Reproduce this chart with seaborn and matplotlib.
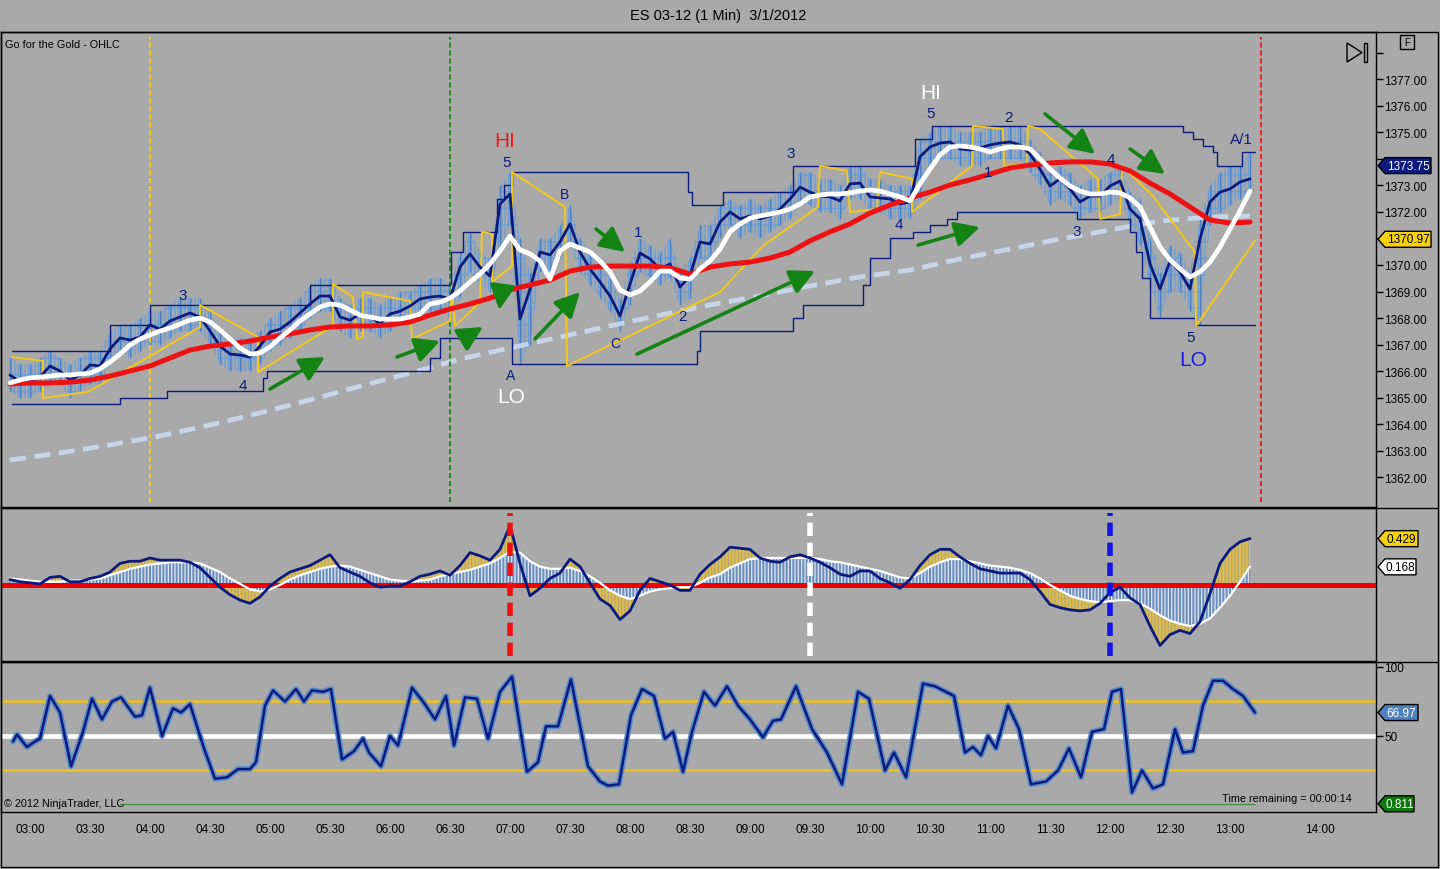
import matplotlib
matplotlib.use("Agg")
import matplotlib.pyplot as plt
import seaborn as sns
import numpy as np
import pandas as pd
from matplotlib.patches import Polygon
from matplotlib.lines import Line2D
from matplotlib.transforms import IdentityTransform

# ------------------------------------------------------------------ data
# time axis: minutes after 03:00 (1-minute ES bars), sampled every 5 minutes
t5 = list(range(-10, 615, 5))
close5 = [1365.85,1365.58,1365.62,1365.77,1366.19,1366.00,1365.66,1365.85,1366.23,1366.19,
          1366.83,1367.25,1367.17,1367.28,1367.74,1367.58,1367.89,1368.04,1368.19,1368.04,
          1367.51,1366.94,1366.64,1366.60,1366.53,1366.94,1367.47,1367.58,1367.85,1368.19,
          1368.53,1368.83,1368.83,1368.04,1367.92,1368.15,1368.08,1367.77,1368.15,1368.26,
          1368.45,1368.72,1368.79,1368.83,1368.72,1369.92,1370.42,1369.92,1369.58,1372.30,
          1372.68,1367.96,1369.09,1370.49,1370.38,1370.87,1371.55,1370.49,1369.85,1369.36,
          1368.83,1368.08,1369.28,1370.45,1370.23,1369.85,1370.04,1369.17,1369.58,1370.87,
          1370.79,1371.62,1372.00,1371.74,1371.85,1371.74,1371.85,1372.11,1372.49,1372.94,
          1372.75,1372.60,1372.57,1372.42,1373.06,1373.09,1372.57,1372.53,1372.49,1372.30,
          1372.38,1374.08,1374.45,1374.60,1374.64,1374.38,1374.34,1374.42,1374.53,1374.60,
          1374.64,1374.53,1374.19,1373.62,1372.98,1373.25,1372.87,1372.38,1372.60,1372.60,
          1372.98,1373.17,1372.11,1371.74,1370.04,1369.09,1370.15,1369.74,1369.09,1370.98,
          1372.38,1372.75,1372.87,1373.13,1373.25]
bar_hi = [1366.50,1366.25,1366.25,1366.50,1366.75,1366.50,1366.25,1366.50,1366.75,1366.75,
          1367.50,1367.75,1367.75,1368.00,1368.25,1368.25,1368.50,1368.75,1368.75,1368.75,
          1368.25,1367.50,1367.25,1367.25,1367.25,1367.50,1368.00,1368.25,1368.50,1368.75,
          1369.25,1369.50,1369.50,1368.75,1368.50,1368.75,1368.75,1368.50,1368.75,1369.00,
          1369.00,1369.25,1369.50,1369.50,1369.25,1370.50,1371.25,1370.50,1370.25,1373.00,
          1373.50,1371.00,1369.75,1371.00,1371.00,1371.50,1372.25,1371.00,1370.50,1370.00,
          1369.50,1368.75,1370.00,1371.00,1370.75,1370.50,1371.00,1369.75,1370.25,1371.50,
          1371.50,1372.25,1372.50,1372.25,1372.50,1372.25,1372.50,1372.75,1373.00,1373.50,
          1373.50,1373.25,1373.25,1373.00,1373.75,1373.75,1373.25,1373.25,1373.00,1373.00,
          1373.00,1374.75,1375.00,1375.25,1375.25,1375.00,1375.00,1375.00,1375.25,1375.25,
          1375.25,1375.25,1374.75,1374.25,1373.50,1373.75,1373.50,1373.00,1373.25,1373.25,
          1373.50,1373.75,1372.75,1372.50,1371.00,1369.75,1370.75,1370.50,1369.75,1371.75,
          1373.00,1373.50,1373.75,1373.75,1374.25]
bar_lo = [1365.25,1365.00,1365.00,1365.25,1365.50,1365.50,1365.00,1365.25,1365.50,1365.50,
          1366.25,1366.75,1366.50,1366.75,1367.00,1367.00,1367.25,1367.50,1367.50,1367.50,
          1367.00,1366.25,1366.00,1366.00,1366.00,1366.25,1366.75,1367.00,1367.25,1367.50,
          1368.00,1368.25,1368.25,1367.50,1367.25,1367.50,1367.50,1367.25,1367.50,1367.75,
          1367.75,1368.00,1368.25,1368.25,1368.00,1368.75,1369.75,1369.25,1369.00,1370.50,
          1371.50,1366.25,1367.00,1369.75,1369.75,1370.25,1370.75,1369.75,1369.25,1368.75,
          1368.25,1367.50,1368.50,1369.75,1369.50,1369.25,1369.50,1368.50,1368.75,1370.25,
          1370.00,1371.00,1371.50,1371.00,1371.25,1371.00,1371.25,1371.50,1371.75,1372.25,
          1372.25,1372.00,1372.00,1371.75,1372.50,1372.50,1372.00,1372.00,1371.75,1371.75,
          1371.75,1372.50,1373.75,1374.00,1374.00,1373.75,1373.75,1373.75,1374.00,1374.00,
          1374.00,1374.00,1373.50,1373.00,1372.25,1372.50,1372.25,1371.75,1372.00,1372.00,
          1372.25,1372.50,1371.50,1370.75,1369.25,1368.00,1369.00,1369.00,1368.25,1367.75,
          1371.50,1372.00,1372.25,1372.50,1372.75]
white5 = [1365.55,1365.66,1365.74,1365.77,1365.81,1365.85,1365.85,1365.89,1365.92,1366.08,
          1366.34,1366.64,1366.98,1367.21,1367.36,1367.51,1367.62,1367.77,1367.92,1368.00,
          1367.85,1367.55,1367.21,1366.87,1366.64,1366.68,1366.91,1367.25,1367.55,1367.89,
          1368.15,1368.42,1368.53,1368.49,1368.30,1368.11,1368.04,1367.96,1367.96,1367.96,
          1368.04,1368.15,1368.53,1368.60,1368.75,1369.02,1369.36,1369.66,1370.04,1370.53,
          1371.09,1370.57,1370.42,1370.15,1369.47,1370.53,1370.79,1370.64,1370.49,1370.15,
          1369.74,1369.06,1368.87,1369.02,1369.36,1369.77,1369.77,1369.51,1369.47,1369.85,
          1370.15,1370.60,1371.25,1371.55,1371.77,1371.85,1371.92,1372.00,1372.11,1372.30,
          1372.57,1372.64,1372.68,1372.68,1372.72,1372.79,1372.83,1372.79,1372.68,1372.57,
          1372.42,1373.06,1373.62,1374.15,1374.45,1374.49,1374.45,1374.38,1374.26,1374.38,
          1374.45,1374.45,1374.38,1374.00,1373.62,1373.28,1372.98,1372.79,1372.68,1372.68,
          1372.75,1372.72,1372.53,1372.19,1371.43,1370.68,1370.19,1369.85,1369.55,1369.74,
          1370.11,1370.68,1371.36,1372.04,1372.79]
t10 = list(range(-10, 615, 10))
red10 = [1365.51,1365.55,1365.55,1365.58,1365.66,1365.81,1366.00,1366.19,1366.49,1366.79,
         1366.94,1367.02,1367.13,1367.28,1367.40,1367.55,1367.66,1367.70,1367.70,1367.74,
         1367.85,1368.11,1368.34,1368.53,1368.75,1369.06,1369.25,1369.43,1369.77,1369.92,
         1369.96,1369.96,1369.96,1369.89,1369.66,1369.92,1370.04,1370.11,1370.26,1370.49,
         1370.91,1371.25,1371.55,1371.96,1372.26,1372.53,1372.75,1373.02,1373.21,1373.43,
         1373.66,1373.77,1373.85,1373.89,1373.89,1373.81,1373.55,1373.09,1372.68,1372.19,
         1371.70,1371.58,1371.62]
dash_t = [-10,15,40,65,90,115,140,165,190,215,240,265,290,315,340,365,390,415,440,465,
          490,515,540,565,590,610]
dash_p = [1362.64,1362.91,1363.21,1363.55,1363.96,1364.42,1364.91,1365.43,1365.92,1366.45,
          1366.87,1367.28,1367.70,1368.11,1368.49,1368.83,1369.21,1369.55,1369.81,1370.23,
          1370.60,1370.98,1371.32,1371.66,1371.81,1371.85]
yel_t = [-9,6.5,6.5,29,85,85,114,114,151.5,151.5,161.5,163.5,166.5,166.5,190,191,210,211,
         212.5,225,226,231,231,241,241,267.5,268.5,345,366.5,394,395,408.5,410,423.5,425,
         441,441,471,471.5,486.5,487,498.5,499,505,534,535,545,546,561.5,582.5,583,612.5]
yel_p = [1366.53,1366.38,1364.98,1365.21,1367.66,1368.49,1367.28,1365.96,1367.70,1369.28,
         1368.79,1367.21,1367.28,1368.98,1368.64,1367.21,1367.89,1369.21,1367.70,1368.60,
         1371.25,1371.17,1369.36,1369.96,1373.51,1372.19,1366.19,1368.98,1370.72,1372.19,
         1373.74,1373.55,1372.00,1372.11,1373.51,1373.25,1372.00,1373.74,1375.25,1375.13,
         1373.74,1373.81,1375.25,1375.13,1373.25,1371.74,1371.92,1373.74,1372.60,1370.49,
         1367.70,1370.91]
up_t = [-9,40,60,140,210.5,216.5,233.5,237,241,329,331,346.5,381.5,442.5,451,576.5,581.5,
        586.5,591.5,593.5,606,612.5]
up_p = [1366.75,1367.75,1368.50,1369.25,1370.50,1371.25,1372.50,1373.00,1373.50,1372.75,
        1372.25,1372.75,1373.75,1374.75,1375.25,1375.00,1374.75,1374.50,1374.25,1373.75,
        1374.25,1374.25]
lo_t = [-9,45,68.5,116.5,118.5,200,205,241,333.5,335,381.5,386.5,416.5,420,430,441.5,450,
        458.5,463.5,523.5,550,553,556,560,582.5,612.5]
lo_p = [1364.75,1365.00,1365.25,1365.75,1366.00,1366.50,1367.25,1366.25,1366.75,1367.50,
        1368.00,1368.50,1369.25,1370.25,1371.00,1371.25,1371.50,1371.75,1372.00,1371.75,
        1371.25,1370.50,1369.50,1368.00,1367.75,1367.75]

osc_macd = [0.05,0.03,0.02,0.01,0.07,0.08,0.03,0.03,0.06,0.08,
            0.12,0.20,0.22,0.22,0.25,0.23,0.23,0.23,0.21,0.16,
            0.07,-0.02,-0.09,-0.14,-0.17,-0.11,-0.01,0.06,0.12,0.15,
            0.18,0.23,0.28,0.16,0.12,0.08,0.02,-0.02,-0.01,-0.01,
            0.03,0.08,0.10,0.13,0.09,0.18,0.30,0.27,0.23,0.33,
            0.55,0.20,-0.10,-0.03,0.06,0.11,0.24,0.17,0.02,-0.13,
            -0.19,-0.32,-0.24,-0.05,0.06,0.03,0.00,-0.05,-0.05,0.10,
            0.19,0.26,0.35,0.34,0.33,0.25,0.22,0.21,0.26,0.28,
            0.25,0.21,0.16,0.10,0.08,0.13,0.13,0.06,0.02,-0.03,
            0.05,0.18,0.28,0.33,0.33,0.26,0.20,0.15,0.13,0.11,
            0.11,0.11,0.05,-0.06,-0.18,-0.21,-0.23,-0.24,-0.23,-0.17,
            -0.07,-0.02,-0.12,-0.18,-0.38,-0.56,-0.46,-0.42,-0.45,-0.34,
            -0.08,0.20,0.33,0.40,0.43]
osc_sig = [0.06,0.05,0.04,0.03,0.03,0.03,0.04,0.04,0.05,0.06,
           0.09,0.12,0.15,0.17,0.19,0.20,0.21,0.21,0.21,0.20,
           0.16,0.12,0.06,0.01,-0.04,-0.06,-0.04,0.00,0.05,0.09,
           0.12,0.15,0.17,0.18,0.17,0.14,0.11,0.08,0.05,0.04,
           0.03,0.04,0.05,0.08,0.10,0.12,0.14,0.17,0.20,0.25,
           0.31,0.30,0.22,0.17,0.15,0.15,0.16,0.13,0.08,0.02,
           -0.05,-0.10,-0.13,-0.10,-0.06,-0.04,-0.03,-0.02,-0.02,0.02,
           0.07,0.10,0.16,0.20,0.24,0.25,0.25,0.25,0.25,0.25,
           0.25,0.24,0.22,0.21,0.19,0.17,0.15,0.13,0.10,0.07,
           0.06,0.11,0.17,0.21,0.24,0.24,0.22,0.20,0.18,0.17,
           0.16,0.14,0.11,0.06,0.00,-0.05,-0.10,-0.13,-0.15,-0.16,
           -0.15,-0.14,-0.14,-0.17,-0.22,-0.28,-0.33,-0.36,-0.38,-0.36,
           -0.31,-0.21,-0.10,0.03,0.17]

stoch_t = [-8.5,-6.5,-1.5,2.5,5,10,15,20.5,26.5,31,36,41,45.5,52.5,56,60,66,71.5,75.5,80,
           87,92.5,98.5,104,110,113,117.5,121.5,127.5,133,137,141,146.5,150.5,156,162,166.5,
           169.5,175.5,180,184,191,196.5,202.5,208,212,217.5,223.5,229,235,241,248.5,254,258,
           264,270.5,279,285,289,294.5,300.5,306,312,317.5,321.5,326.5,331,337,342.5,348.5,
           354,360,366.5,371.5,375.5,383,391,398.5,406,414,419.5,427.5,432,438,446.5,452.5,
           462,467.5,471.5,475.5,479,483,489,494.5,500.5,508,514,519.5,525.5,531,537,541,
           545.5,551,556,561.5,566.5,572.5,576.5,581.5,586.5,591.5,596.5,601.5,606.5,612.5]
stoch_v = [46,51,42,46,48,79,67,28,53,77,62,75,78,64,65,85,50,70,67,73,
           41,19,20,26,26,31,72,83,75,84,75,83,82,84,33,39,48,38,28,50,
           43,85,75,62,79,43,78,77,48,82,93,24,31,57,57,91,28,17,14,15,
           65,84,79,48,53,24,53,82,72,86,72,62,49,61,62,86,55,38,15,82,
           77,25,38,20,88,86,79,38,42,36,50,41,72,55,15,17,25,41,20,53,
           55,82,84,9,25,12,15,55,38,39,72,90,90,84,79,67]
green_t = [45, 612.5]
green_v = [0.811, 0.811]
stoch_levels = [25, 50, 75]

# axis ticks / labels
xtick_min = [0, 30, 60, 90, 120, 150, 180, 210, 240, 270, 300, 330, 360, 390, 420, 450,
             480, 510, 540, 570, 600, 645]
xtick_lab = ["03:00","03:30","04:00","04:30","05:00","05:30","06:00","06:30","07:00",
             "07:30","08:00","08:30","09:00","09:30","10:00","10:30","11:00","11:30",
             "12:00","12:30","13:00","14:00"]
price_ticks = [1362,1363,1364,1365,1366,1367,1368,1369,1370,1371,1372,1373,1374,1375,
               1376,1377,1378]
hidden_price_labels = [1374, 1378]   # covered by the last-price tag / F button
stoch_ticks = [50, 100]

# last-value tags
last_price = 1373.75
last_stop = 1370.97
last_macd = 0.429
last_sig = 0.168
last_stoch = 66.97
last_green = 0.811

# session / event markers (minutes after 03:00)
main_events = [(60, '#F2CB12'), (210, '#1E8A1E'), (615.5, '#E8202A')]
osc_events = [(240, '#F01010'), (390, '#FFFFFF'), (540, '#1414E6')]

NAVY = '#0B1A7E'
wave_labels = [
    ("3", 76.5, 1368.87, NAVY, 11), ("4", 106.5, 1365.47, NAVY, 11),
    ("HI", 237.5, 1374.68, '#E41A1A', 15), ("5", 238.5, 1373.89, NAVY, 11),
    ("A", 240.5, 1365.85, NAVY, 10), ("LO", 240.5, 1365.02, 'white', 15),
    ("B", 267.5, 1372.68, NAVY, 10), ("C", 292.5, 1367.06, NAVY, 10),
    ("1", 304, 1371.25, NAVY, 11), ("2", 326.5, 1368.08, NAVY, 11),
    ("3", 380.5, 1374.23, NAVY, 11), ("4", 434.5, 1371.55, NAVY, 11),
    ("HI", 450.5, 1376.49, 'white', 15), ("5", 450.5, 1375.74, NAVY, 11),
    ("2", 489.5, 1375.58, NAVY, 11), ("1", 479, 1373.51, NAVY, 11),
    ("3", 523.5, 1371.28, NAVY, 11), ("4", 540.5, 1374.0, NAVY, 11),
    ("A/1", 605.5, 1374.75, NAVY, 11), ("5", 580.5, 1367.28, NAVY, 11),
    ("LO", 581.5, 1366.42, '#1A1AE6', 15),
]
arrows = [
    (120, 1365.32, 147.5, 1366.53), (183.5, 1366.53, 205, 1367.13),
    (216.5, 1367.21, 226.5, 1367.66), (235.6, 1368.85, 234.6, 1368.30),
    (252.5, 1367.21, 275, 1368.98), (283, 1371.36, 297.5, 1370.49),
    (303.5, 1366.64, 392.5, 1369.77), (444, 1370.75, 475, 1371.43),
    (507.5, 1375.70, 532.5, 1374.19), (550, 1374.38, 567.5, 1373.43),
]

# ------------------------------------------------------------------ style
sns.set_theme(style="white")
plt.rcParams['font.family'] = ['Liberation Sans', 'DejaVu Sans']
plt.rcParams['hatch.linewidth'] = 0.9
plt.rcParams['axes.edgecolor'] = 'black'
plt.rcParams['text.color'] = 'black'
plt.rcParams['xtick.color'] = 'black'
plt.rcParams['ytick.color'] = 'black'
plt.rcParams['axes.linewidth'] = 1.0

BG = '#A9A9A9'
W, H = 1440, 870
fig = plt.figure(figsize=(W / 100, H / 100), dpi=100, facecolor=BG)

L = 1 / W
AW = 1375 / W
ax = fig.add_axes([L, 1 - 508 / H, AW, 475 / H])
axo = fig.add_axes([L, 1 - 662 / H, AW, 153 / H])
axs = fig.add_axes([L, 1 - 813 / H, AW, 150 / H])
XLIM = (-14.5, 673)
for a in (ax, axo, axs):
    a.set_facecolor(BG)
    a.set_xlim(*XLIM)
    for s in a.spines.values():
        s.set_color('black')
        s.set_linewidth(1)
    a.yaxis.tick_right()
    a.tick_params(axis='y', direction='out', length=5, width=1, pad=1, labelsize=8.5,
                  colors='black')
    a.tick_params(axis='x', length=0, labelbottom=False)
    a.set_xlabel('')
    a.set_ylabel('')

ax.set_ylim(1360.87, 1378.79)
axo.set_ylim(-0.704, 0.713)
axs.set_ylim(-5.1, 103.6)

# ------------------------------------------------------------------ main panel
ax.fill_between(t5, bar_lo, bar_hi, facecolor='none', edgecolor='#6C9DD6',
                hatch='||||+', linewidth=0, zorder=1)
ax.vlines(t5, bar_lo, bar_hi, color='#4F82C2', linewidth=1, zorder=1)

sns.lineplot(x=dash_t, y=dash_p, ax=ax, color='#C6D5EA', linewidth=3.4,
             linestyle=(0, (3.4, 1.8)), estimator=None, sort=False, zorder=2)
sns.lineplot(x=up_t, y=up_p, ax=ax, color=NAVY, linewidth=1.0, drawstyle='steps-post',
             estimator=None, sort=False, zorder=3)
sns.lineplot(x=lo_t, y=lo_p, ax=ax, color=NAVY, linewidth=1.0, drawstyle='steps-post',
             estimator=None, sort=False, zorder=3)
sns.lineplot(x=yel_t, y=yel_p, ax=ax, color='#F4C81A', linewidth=1.4,
             estimator=None, sort=False, zorder=4)
sns.lineplot(x=t5, y=close5, ax=ax, color=NAVY, linewidth=2.0,
             estimator=None, sort=False, zorder=5)
sns.lineplot(x=t10, y=red10, ax=ax, color='#EE1111', linewidth=3.6,
             estimator=None, sort=False, zorder=6)
sns.lineplot(x=t5, y=white5, ax=ax, color='white', linewidth=3.4,
             estimator=None, sort=False, zorder=7)

for tm, col in main_events:
    ax.axvline(tm, ymin=0.01, ymax=0.99, color=col, linewidth=1.4,
               linestyle=(0, (2.6, 1.5)), zorder=2.5)

for txt, tm, pr, col, fs in wave_labels:
    ax.text(tm, pr, txt, color=col, fontsize=fs, ha='center', va='center', zorder=9)

for t0, p0, t1, p1 in arrows:
    ax.annotate('', xy=(t1, p1), xytext=(t0, p0),
                arrowprops=dict(arrowstyle='-|>,head_length=0.75,head_width=0.38',
                                color='#138313', lw=2.6, mutation_scale=20,
                                shrinkA=0, shrinkB=0), zorder=9)

ax.set_yticks(price_ticks)
ax.set_yticklabels(["" if p in hidden_price_labels else f"{p:.2f}" for p in price_ticks])
ax.text(0.003, 0.975, "Go for the Gold - OHLC", transform=ax.transAxes, fontsize=7.8,
        ha='left', va='center')

# ------------------------------------------------------------------ oscillator panel
axo.fill_between(t5, osc_macd, osc_sig, facecolor='#DDBE4C', edgecolor='#B4A679',
                 hatch='|||||', linewidth=0, zorder=1)
axo.fill_between(t5, 0, osc_sig, facecolor='#6C8FBC', edgecolor='#DDE6F1',
                 hatch='|||||', linewidth=0, zorder=2)
axo.axhline(0, color='#F00000', linewidth=3.6, zorder=3)
sns.lineplot(x=t5, y=osc_sig, ax=axo, color='white', linewidth=1.6,
             estimator=None, sort=False, zorder=4)
sns.lineplot(x=t5, y=osc_macd, ax=axo, color=NAVY, linewidth=2.0,
             estimator=None, sort=False, zorder=5)
for tm, col in osc_events:
    axo.axvline(tm, ymin=0.03, ymax=0.97, color=col, linewidth=4,
                linestyle=(0, (2.4, 1.2)), zorder=6)
axo.set_yticks([])

# ------------------------------------------------------------------ stochastic panel
for lv in stoch_levels:
    if lv == 50:
        axs.axhline(lv, color='white', linewidth=3.4, zorder=1)
    else:
        axs.axhline(lv, color='#F2C21A', linewidth=1.8, zorder=1)
sns.lineplot(x=green_t, y=green_v, ax=axs, color='#3F8F3F', linewidth=0.9,
             estimator=None, sort=False, zorder=2)
sns.lineplot(x=stoch_t, y=stoch_v, ax=axs, color='#5A8BC8', linewidth=4.2,
             estimator=None, sort=False, zorder=3)
sns.lineplot(x=stoch_t, y=stoch_v, ax=axs, color=NAVY, linewidth=1.8,
             estimator=None, sort=False, zorder=4)
axs.set_yticks(stoch_ticks)
axs.set_yticklabels([str(v) for v in stoch_ticks])
axs.set_xticks(xtick_min)
axs.set_xticklabels(xtick_lab)
axs.tick_params(axis='x', direction='out', length=5, width=1, pad=3, labelsize=8.5,
                labelbottom=True, colors='black')
axs.text(0.002, 0.06, "\u00a9 2012 NinjaTrader, LLC", transform=axs.transAxes,
         fontsize=7.8, ha='left', va='center')
axs.text(0.982, 0.09, "Time remaining = 00:00:14", transform=axs.transAxes,
         fontsize=7.8, ha='right', va='center')

# ------------------------------------------------------------------ frame & decorations
def P(x, y):
    return (x, H - y)

ID = IdentityTransform()
for (x0, y0, x1, y1) in [(1, 33, 1438, 33), (1, 508.5, 1438, 508.5), (1, 662.5, 1438, 662.5),
                         (1, 868, 1438, 868), (1, 33, 1, 868), (1438, 33, 1438, 868)]:
    a0, b0 = P(x0, y0)
    a1, b1 = P(x1, y1)
    fig.add_artist(Line2D([a0, a1], [b0, b1], color='black', linewidth=1, transform=ID))

fig.text(718 / W, 1 - 16 / H, "ES 03-12 (1 Min)  3/1/2012", fontsize=10.5,
         ha='center', va='center')

# play/end icon and "F" box
fig.add_artist(Polygon([P(1347, 44), P(1347, 63), P(1362, 53.5)], closed=True,
                       facecolor='none', edgecolor='black', linewidth=1, transform=ID))
fig.add_artist(Polygon([P(1363.5, 44), P(1366.5, 44), P(1366.5, 63), P(1363.5, 63)],
                       closed=True, facecolor='none', edgecolor='black', linewidth=1,
                       transform=ID))
fig.add_artist(Polygon([P(1400, 36), P(1414, 36), P(1414, 50), P(1400, 50)], closed=True,
                       facecolor='none', edgecolor='black', linewidth=1, transform=ID))
fig.text(1407 / W, 1 - 43 / H, "F", fontsize=7, ha='center', va='center')


def tag(axis, value, text, face, tcol, width):
    x0 = axis.transAxes.transform((1, 0))[0] + 2
    y0 = axis.transData.transform((0, value))[1]
    h = 8
    pts = [(x0, y0), (x0 + 7, y0 + h), (x0 + width, y0 + h), (x0 + width, y0 - h),
           (x0 + 7, y0 - h)]
    fig.add_artist(Polygon(pts, closed=True, facecolor=face, edgecolor='black',
                           linewidth=1, transform=ID, zorder=20))
    fig.text(x0 + 7 + (width - 7) / 2, y0, text, transform=ID, ha='center', va='center',
             color=tcol, fontsize=8.5, zorder=21)


tag(ax, last_price, f"{last_price:.2f}", '#0B1A7E', 'white', 53)
tag(ax, last_stop, f"{last_stop:.2f}", '#F5D10F', 'black', 53)
tag(axo, last_macd, f"{last_macd:.3f}", '#F5D10F', 'black', 40)
tag(axo, last_sig, f"{last_sig:.3f}", 'white', 'black', 38)
tag(axs, last_stoch, f"{last_stoch:.2f}", '#4F81BD', 'white', 40)
tag(axs, last_green, f"{last_green:.3f}", '#0E7A0E', 'white', 36)

fig.savefig("out.png", dpi=100, facecolor=BG)
